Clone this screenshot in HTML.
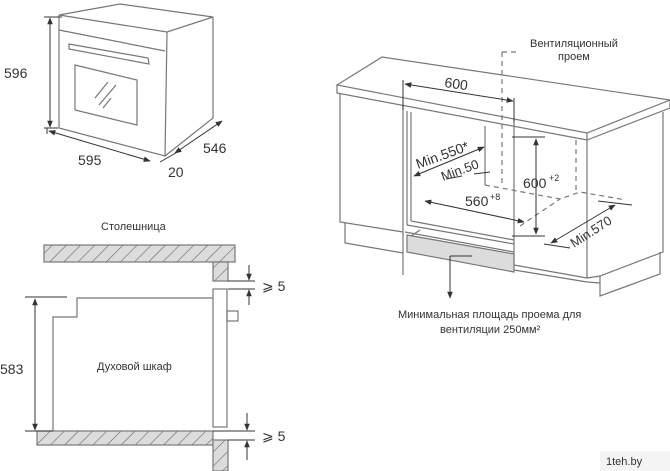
<!DOCTYPE html>
<html><head><meta charset="utf-8"><style>
html,body{margin:0;padding:0;background:#fff}
svg{display:block}
text{font-family:"Liberation Sans","Noto Sans CJK SC",sans-serif;fill:#333}
</style></head><body>
<svg width="670" height="471" viewBox="0 0 670 471" xmlns="http://www.w3.org/2000/svg">
<defs>
<pattern id="h" width="10" height="10" patternUnits="userSpaceOnUse" patternTransform="rotate(45)">
<rect width="10" height="10" fill="#dcdcdc"/><line x1="0" y1="0" x2="0" y2="10" stroke="#666" stroke-width="1.2"/>
</pattern>
<marker id="a" viewBox="0 0 10 10" refX="9" refY="5" markerWidth="7" markerHeight="7" orient="auto-start-reverse"><path d="M0,1 L10,5 L0,9z" fill="#333"/></marker>
</defs>
<g fill="none" stroke="#777" stroke-width="1.2">
<!-- top-left oven -->
<path d="M59,15 L120,4 L213,17 L167,32 Z"/>
<path d="M59,15 L59,128 L165,156 L167,32"/>
<path d="M213,17 L213,118 L165,156"/>
<path d="M59,30 L165,51"/>
<path d="M69,44 L148,58 L149,64 L69,49 Z"/>
<path d="M75,65 L137,80 L137,125 L75,110 Z"/>
<path d="M95,98 L108,82 M99,105 L116,85 M103,108 L111,98"/>
</g>
<g stroke="#333" stroke-width="1" fill="none">
<line x1="50" y1="18" x2="50" y2="127" marker-start="url(#a)" marker-end="url(#a)"/>
<line x1="44" y1="17" x2="62" y2="17"/><line x1="44" y1="128" x2="58" y2="128"/>
<line x1="49" y1="131" x2="150" y2="161" marker-start="url(#a)" marker-end="url(#a)"/>
<line x1="47" y1="128" x2="47" y2="134"/>
<line x1="175" y1="153" x2="222" y2="121" marker-start="url(#a)" marker-end="url(#a)"/>
<line x1="160" y1="162" x2="181" y2="150"/>
</g>
<text x="4" y="78" font-size="14">596</text>
<text x="78" y="165" font-size="14">595</text>
<text x="203" y="153" font-size="14">546</text>
<text x="168" y="177" font-size="14">20</text>

<!-- bottom-left section -->
<text x="101" y="230" font-size="11">Столешница</text>
<g stroke="#777" stroke-width="1.2">
<rect x="44" y="245" width="191" height="17" fill="url(#h)"/>
<rect x="213" y="262" width="15" height="19" fill="url(#h)"/>
<rect x="37" y="431" width="176" height="14" fill="url(#h)"/>
<rect x="213" y="440" width="15" height="31" fill="url(#h)"/>
<path d="M213,298 L77,298 L77,317 L53,317 L53,431" fill="none"/>
<rect x="213" y="289" width="14" height="138" fill="none"/>
<rect x="227" y="311" width="11" height="10" fill="none"/>
</g>
<g stroke="#333" stroke-width="1" fill="none">
<line x1="35" y1="299" x2="35" y2="430" marker-start="url(#a)" marker-end="url(#a)"/>
<line x1="25" y1="297" x2="67" y2="297"/><line x1="25" y1="431" x2="53" y2="431"/>
<line x1="228" y1="281" x2="255" y2="281"/><line x1="228" y1="289" x2="255" y2="289"/>
<line x1="249" y1="265" x2="249" y2="280" marker-end="url(#a)"/>
<line x1="249" y1="305" x2="249" y2="290" marker-end="url(#a)"/>
<line x1="213" y1="431" x2="255" y2="431"/><line x1="228" y1="440" x2="255" y2="440"/>
<line x1="247" y1="413" x2="247" y2="430" marker-end="url(#a)"/>
<line x1="247" y1="460" x2="247" y2="441" marker-end="url(#a)"/>
</g>
<text x="262" y="291" font-size="14">⩾ 5</text>
<text x="262" y="441" font-size="14">⩾ 5</text>
<text x="0" y="374" font-size="14">583</text>
<text x="97" y="370" font-size="11">Духовой шкаф</text>

<!-- right drawing -->
<g fill="none" stroke="#777" stroke-width="1.2">
<path d="M337,85 L382,57 L670,100 L587,133 Z"/>
<path d="M337,85 L337,93 L587,140 L587,133 M587,140 L670,108 L670,100"/>
<path d="M340,93 L340,222 L403,232 M403,105 L403,275"/>
<path d="M345,222 L345,243 L403,253"/>
<path d="M587,140 L587,278 L514,265 M514,120 L514,265"/>
<path d="M663,112 L663,252 L600,276 L587,278 M600,276 L600,296 L660,274 L660,252 M514,270 L587,282 L600,283"/>
<path d="M407,111 L407,225 L514,244 M411,112 L411,221"/>
<path d="M411,221 L514,240 M405,232 L514,252"/>
<path d="M485,126 L485,185"/>
<path d="M407,235 L514,254 L514,272 L407,252 Z" fill="#dcdcdc"/>
<path d="M411,236 L420,230"/>
</g>
<g fill="none" stroke="#777" stroke-width="1.2" stroke-dasharray="5,4">
<path d="M502,52 L502,187 M502,52 L520,52"/>
<path d="M485,185 L560,199 L580,192 L626,200 M576,140 L576,192 M520,226 L560,199"/>
</g>
<g stroke="#333" stroke-width="1" fill="none">
<line x1="403" y1="80" x2="403" y2="110"/><line x1="514" y1="98" x2="514" y2="122"/>
<line x1="405" y1="84" x2="513" y2="101" marker-start="url(#a)" marker-end="url(#a)"/>
<line x1="414" y1="176" x2="484" y2="147" marker-start="url(#a)" marker-end="url(#a)"/>
<line x1="536" y1="139" x2="536" y2="234" marker-start="url(#a)" marker-end="url(#a)"/>
<line x1="512" y1="137" x2="545" y2="137"/><line x1="512" y1="236" x2="545" y2="236"/>
<line x1="425" y1="201" x2="524" y2="222" marker-start="url(#a)" marker-end="url(#a)"/>
<line x1="551" y1="243" x2="615" y2="205" marker-start="url(#a)" marker-end="url(#a)"/>
<line x1="598" y1="201" x2="632" y2="205"/><line x1="544" y1="244" x2="570" y2="248"/>
<path d="M446,179 L462,176 M474,174 L490,172"/>
<line x1="450" y1="256" x2="450" y2="298" marker-end="url(#a)"/>
<line x1="450" y1="256" x2="472" y2="256"/>
</g>
<text x="530" y="47" font-size="11">Вентиляционный</text>
<text x="558" y="60" font-size="11">проем</text>
<text x="444" y="87" font-size="14" transform="rotate(8 444 87)">600</text>
<text x="418" y="169" font-size="14" transform="rotate(-20 418 169)">Min.550*</text>
<text x="443" y="181" font-size="13" transform="rotate(-20 443 181)">Min.50</text>
<text x="523" y="188" font-size="14">600</text><text x="549" y="181" font-size="9">+2</text>
<text x="465" y="206" font-size="14">560</text><text x="490" y="200" font-size="9">+8</text>
<text x="574" y="248" font-size="13" transform="rotate(-33 574 248)">Min.570</text>
<text x="398" y="318" font-size="11">Минимальная площадь проема для</text>
<text x="440" y="333" font-size="11">вентиляции 250мм²</text>
<rect x="600" y="451" width="70" height="20" fill="#f4f4f4"/>
<text x="606" y="465" font-size="11" fill="#333">1teh.by</text>
</svg>
</body></html>
